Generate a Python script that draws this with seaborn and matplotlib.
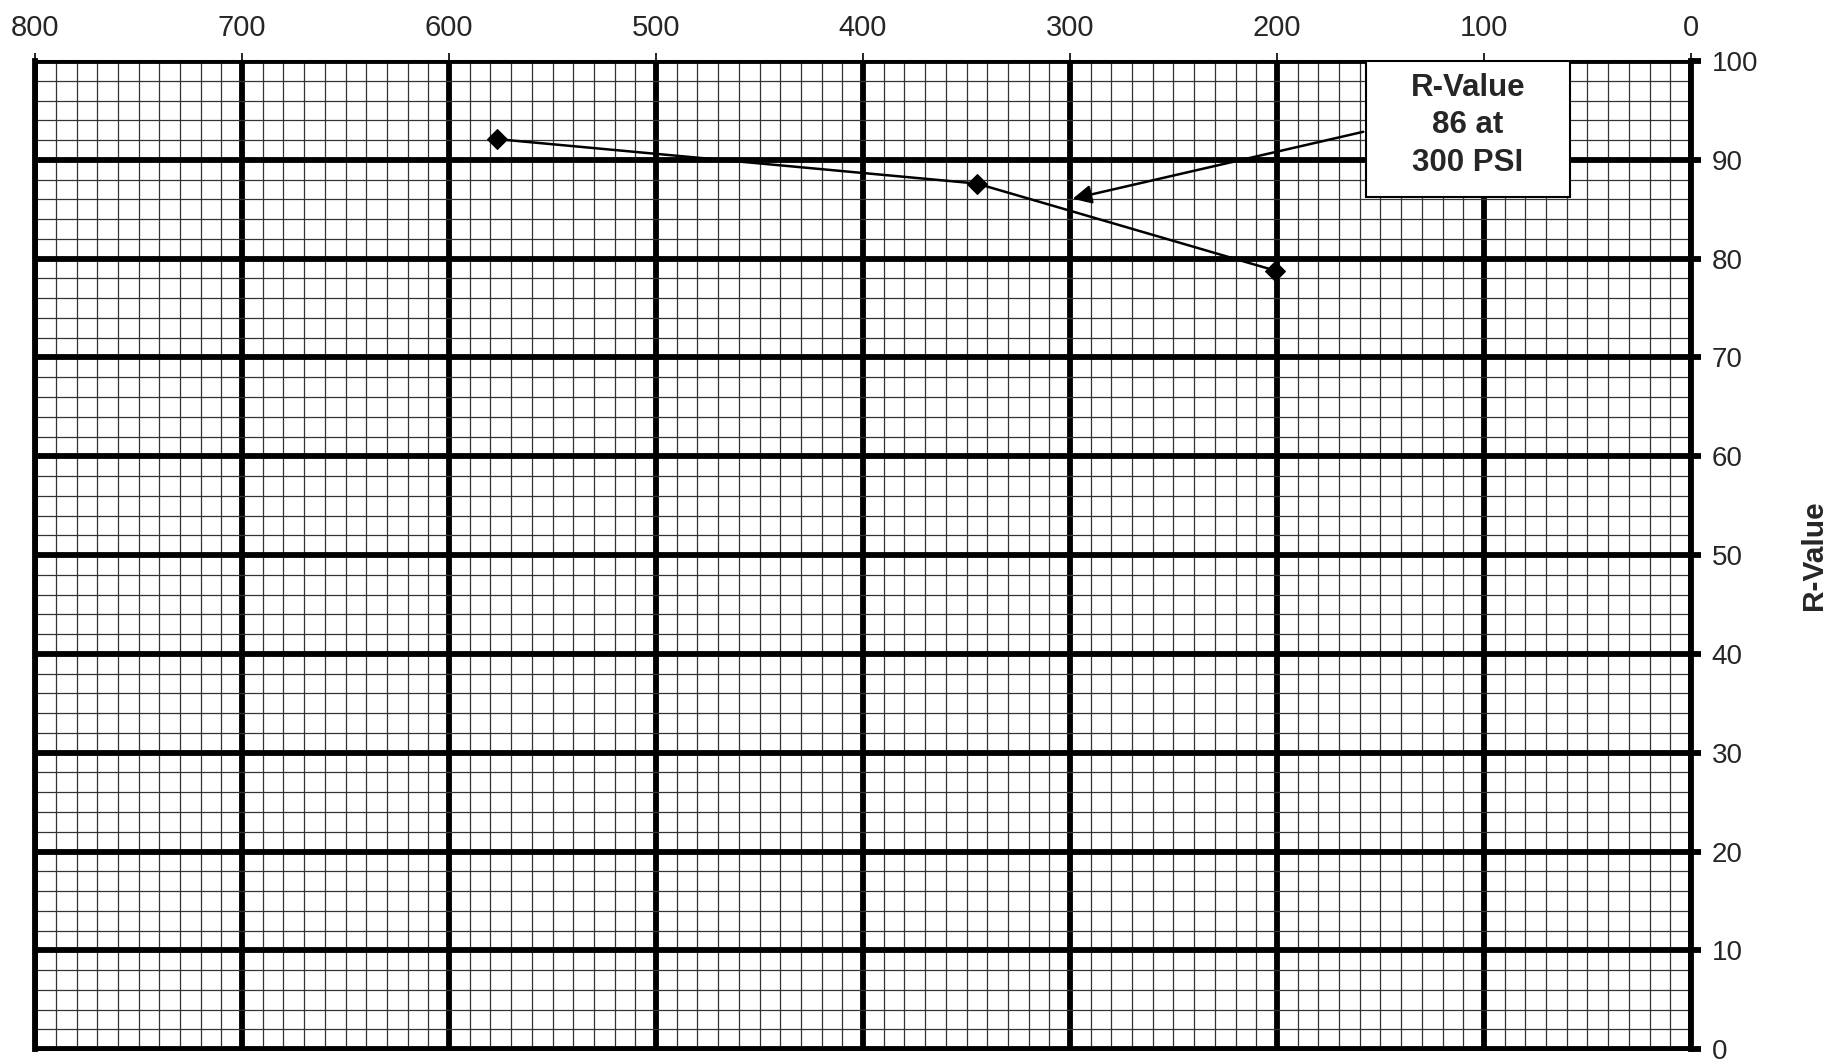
import matplotlib
matplotlib.use("Agg")
import matplotlib.pyplot as plt
import matplotlib.patches as patches
from matplotlib.ticker import MultipleLocator
import seaborn as sns
import pandas as pd

# readings
pressure_psi = [577, 345, 201]
r_value = [92.1, 87.6, 78.8]
x_ticks = [800, 700, 600, 500, 400, 300, 200, 100, 0]
y_ticks = [0, 10, 20, 30, 40, 50, 60, 70, 80, 90, 100]
annot_psi = 300
annot_r = 86
annot_text = "R-Value\n86 at\n300 PSI"

df = pd.DataFrame({"psi": pressure_psi, "r": r_value})

sns.set_style("white")
plt.rcParams["font.family"] = ["Liberation Sans", "DejaVu Sans"]

fig = plt.figure(figsize=(18.48, 10.63), dpi=100)
ax = fig.add_axes([0.019, 0.013, 0.896, 0.9296])

sns.lineplot(data=df, x="psi", y="r", ax=ax, color="black", lw=1.8,
             marker="D", markersize=10, markeredgecolor="black", sort=False, zorder=5)

ax.set_xlim(800, 0)
ax.set_ylim(0, 100)
ax.set_xticks(x_ticks)
ax.set_yticks(y_ticks)
ax.xaxis.set_minor_locator(MultipleLocator(10))
ax.yaxis.set_minor_locator(MultipleLocator(2))

# graph paper
ax.grid(which="major", color="black", lw=4.2, zorder=1)
ax.grid(which="minor", color="0.2", lw=0.9, zorder=1)
ax.set_axisbelow(True)

ax.xaxis.tick_top()
ax.yaxis.tick_right()
ax.yaxis.set_label_position("right")
ax.tick_params(axis="x", which="major", length=6, width=1.2, pad=8, labelsize=21, color="black")
ax.tick_params(axis="y", which="major", length=7, width=4.2, pad=8, labelsize=20, color="black")
ax.tick_params(which="minor", length=0)

ax.set_xlabel("")
ax.set_ylabel("R-Value", fontsize=21.5, fontweight="bold", labelpad=30)

for side, w in [("left", 4.2), ("right", 4.2), ("top", 2.2), ("bottom", 2.2)]:
    ax.spines[side].set_visible(True)
    ax.spines[side].set_linewidth(w)
    ax.spines[side].set_color("black")

# annotation box with arrow
box = patches.Rectangle((58.5, 86.2), 157 - 58.5, 100 - 86.2, facecolor="white",
                        edgecolor="black", lw=1.5, zorder=6)
ax.add_patch(box)
ax.text(107.7, 93.5, annot_text, ha="center", va="center", fontsize=22.5,
        fontweight="bold", linespacing=1.32, zorder=7)
ax.annotate("", xy=(annot_psi, annot_r), xytext=(157, 92.9),
            arrowprops=dict(arrowstyle="-|>", color="black", lw=1.8, mutation_scale=28),
            zorder=6)

fig.savefig("out.png", dpi=100)
